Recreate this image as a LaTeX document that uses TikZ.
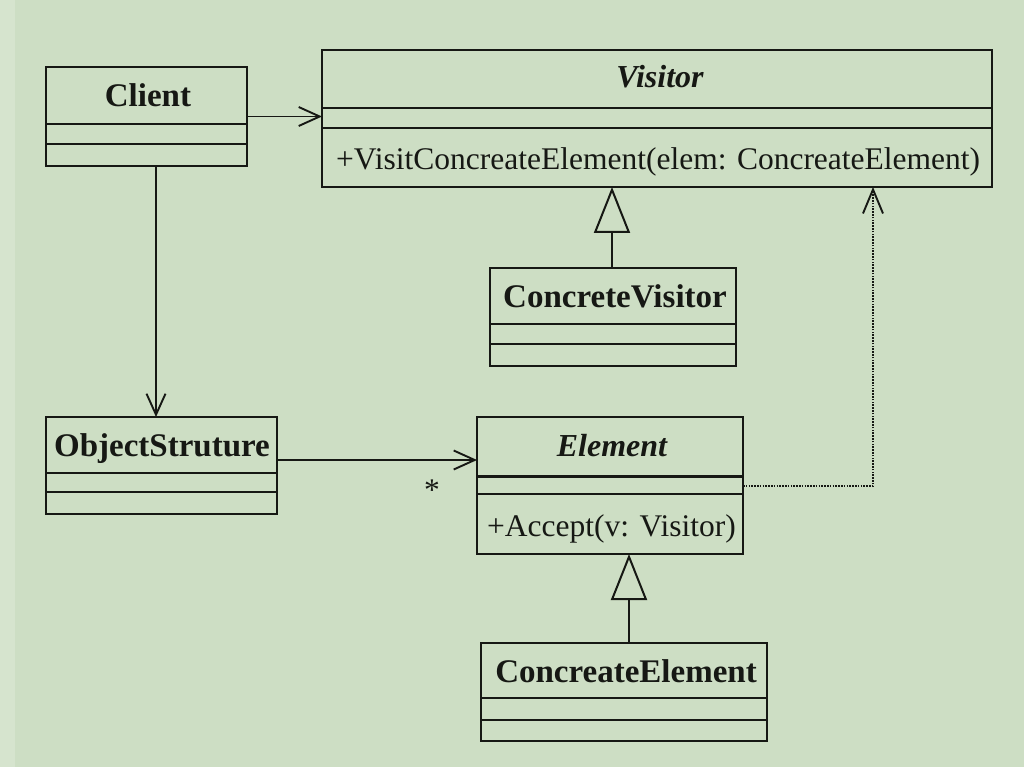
\documentclass[tikz,border=0pt]{standalone}
\usepackage{fontspec}
\setmainfont{Liberation Serif}
\usetikzlibrary{arrows.meta}
\definecolor{bg}{RGB}{205,222,196}
\definecolor{bgl}{RGB}{214,228,206}
\definecolor{ink}{RGB}{22,24,20}
\newcommand\umlbox[7]{%
  \node[classbox, minimum width={(#4-#2)*1pt}, minimum height={(#5-#3)*1pt}, anchor=north west] (#1) at (#2,#3) {};
  \draw[divider] (#2,#6) -- (#4,#6);
  \draw[divider] (#2,#7) -- (#4,#7);
}
\begin{document}
\begin{tikzpicture}[x=1pt,y=-1pt,
  classbox/.style={draw=ink, line width=2pt, inner sep=0pt, outer sep=0pt},
  divider/.style={draw=ink, line width=2pt},
  title/.style={font=\fontsize{33}{38}\selectfont\bfseries, inner sep=0pt, text=ink},
  ititle/.style={font=\fontsize{32}{38}\selectfont\bfseries\itshape, inner sep=0pt, text=ink},
  member/.style={font=\fontsize{31.5}{36}\selectfont, inner sep=0pt, text=ink},
  assoc/.style={draw=ink, line width=1.9pt, line join=round,
    -{Straight Barb[length=21pt,width=19pt,line width=1.9pt]}},
  general/.style={draw=ink, line width=2pt,
    -{Triangle[open,length=46pt,width=36pt,line width=2pt]}},
  depend/.style={draw=ink, line width=2.2pt, dash pattern=on 1.6pt off 1.2pt,
    -{Straight Barb[length=24pt,width=20pt,line width=1.9pt]}}
]
\fill[bg] (0,0) rectangle (1024,767);
\fill[bgl] (0,0) rectangle (15,767);
\useasboundingbox (0,0) rectangle (1024,767);

% classes
\umlbox{client}{46}{67}{247}{166}{124}{144}
\umlbox{visitor}{322}{50}{992}{187}{108}{128}
\umlbox{cvisitor}{490}{268}{736}{366}{324}{344}
\umlbox{objs}{46}{417}{277}{514}{473}{492}
\umlbox{elem}{477}{417}{743}{554}{476}{494}
\umlbox{celem}{481}{643}{767}{741}{698}{720}
\draw[divider, line width=3pt] (477,476) -- (743,476);

% titles and members
\node[title, anchor=base] (clientT) at (148,107) {Client};
\node[ititle, anchor=base] (visitorT) at (660,88) {Visitor};
\node[member, anchor=base west] (visitorM) at (336,170) {+VisitConcreateElement(elem: ConcreateElement)};
\node[title, anchor=base] (cvisitorT) at (615,307.5) {ConcreteVisitor};
\node[title, anchor=base] (objsT) at (162,456.5) {ObjectStruture};
\node[ititle, anchor=base] (elemT) at (612,456) {Element};
\node[member, anchor=base west] (elemM) at (487,536) {+Accept(v: Visitor)};
\node[title, anchor=base] (celemT) at (626,682.5) {ConcreateElement};
\node[member, anchor=center] (star) at (432,490) {*};

% connector anchors
\coordinate (c1) at ([xshift=9.5pt]client.south);
\coordinate (o1) at ([yshift=5.5pt]objs.east);
\coordinate (v1) at ([xshift=-1pt]cvisitor.north);
\coordinate (e1) at ([xshift=5pt]celem.north);
\coordinate (bend) at (873,486);

% connectors
\draw[assoc] (client.east) -- (visitor.west |- client.east);
\draw[assoc] (c1) -- (objs.north -| c1);
\draw[assoc] (o1) -- (elem.west |- o1);
\draw[general] (v1) -- (visitor.south -| v1);
\draw[general] (e1) -- (elem.south -| e1);
\draw[depend] (elem.east |- bend) -- (bend) -- (bend |- visitor.south);
\end{tikzpicture}
\end{document}
